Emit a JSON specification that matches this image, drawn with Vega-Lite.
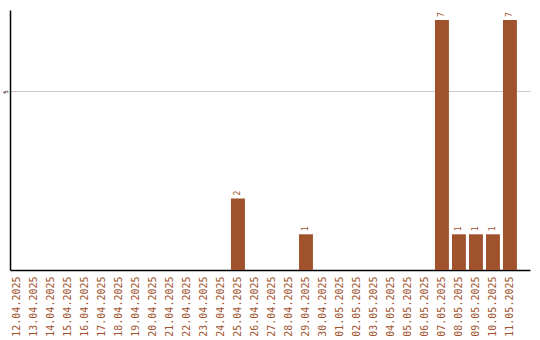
{
  "$schema": "https://vega.github.io/schema/vega-lite/v6.json",
  "width": 520,
  "height": 260,
  "autosize": {"type": "none"},
  "padding": {"left": 10, "top": 10, "right": 10, "bottom": 70},
  "background": "white",
  "config": {
    "view": {"stroke": null},
    "font": "DejaVu Sans Mono"
  },
  "data": {
    "values": [
      {"date": "12.04.2025", "count": 0},
      {"date": "13.04.2025", "count": 0},
      {"date": "14.04.2025", "count": 0},
      {"date": "15.04.2025", "count": 0},
      {"date": "16.04.2025", "count": 0},
      {"date": "17.04.2025", "count": 0},
      {"date": "18.04.2025", "count": 0},
      {"date": "19.04.2025", "count": 0},
      {"date": "20.04.2025", "count": 0},
      {"date": "21.04.2025", "count": 0},
      {"date": "22.04.2025", "count": 0},
      {"date": "23.04.2025", "count": 0},
      {"date": "24.04.2025", "count": 0},
      {"date": "25.04.2025", "count": 2},
      {"date": "26.04.2025", "count": 0},
      {"date": "27.04.2025", "count": 0},
      {"date": "28.04.2025", "count": 0},
      {"date": "29.04.2025", "count": 1},
      {"date": "30.04.2025", "count": 0},
      {"date": "01.05.2025", "count": 0},
      {"date": "02.05.2025", "count": 0},
      {"date": "03.05.2025", "count": 0},
      {"date": "04.05.2025", "count": 0},
      {"date": "05.05.2025", "count": 0},
      {"date": "06.05.2025", "count": 0},
      {"date": "07.05.2025", "count": 7},
      {"date": "08.05.2025", "count": 1},
      {"date": "09.05.2025", "count": 1},
      {"date": "10.05.2025", "count": 1},
      {"date": "11.05.2025", "count": 7}
    ]
  },
  "encoding": {
    "x": {
      "field": "date",
      "type": "ordinal",
      "sort": null,
      "scale": {"paddingInner": 0.18, "paddingOuter": 0.385, "align": 0},
      "axis": {
        "title": null,
        "labelAngle": -90,
        "labelColor": "#A0522D",
        "labelFontSize": 10,
        "labelPadding": 6,
        "ticks": false,
        "domainColor": "black",
        "domainWidth": 1.5
      }
    },
    "y": {
      "field": "count",
      "type": "quantitative",
      "scale": {"domain": [0, 7.28], "nice": false},
      "axis": {
        "title": null,
        "values": [5],
        "labelAngle": -90,
        "labelFontSize": 6,
        "labelColor": "black",
        "labelPadding": 2,
        "labelAlign": "center",
        "labelBaseline": "bottom",
        "ticks": false,
        "grid": true,
        "gridColor": "#c8c8c8",
        "domainColor": "black",
        "domainWidth": 1.5
      }
    }
  },
  "layer": [
    {
      "mark": {"type": "bar", "color": "#A0522D"}
    },
    {
      "transform": [{"filter": "datum.count > 0"}],
      "mark": {
        "type": "text",
        "angle": -90,
        "align": "left",
        "baseline": "middle",
        "dx": 3,
        "fontSize": 8,
        "color": "#A0522D"
      },
      "encoding": {"text": {"field": "count", "type": "quantitative"}}
    }
  ]
}
